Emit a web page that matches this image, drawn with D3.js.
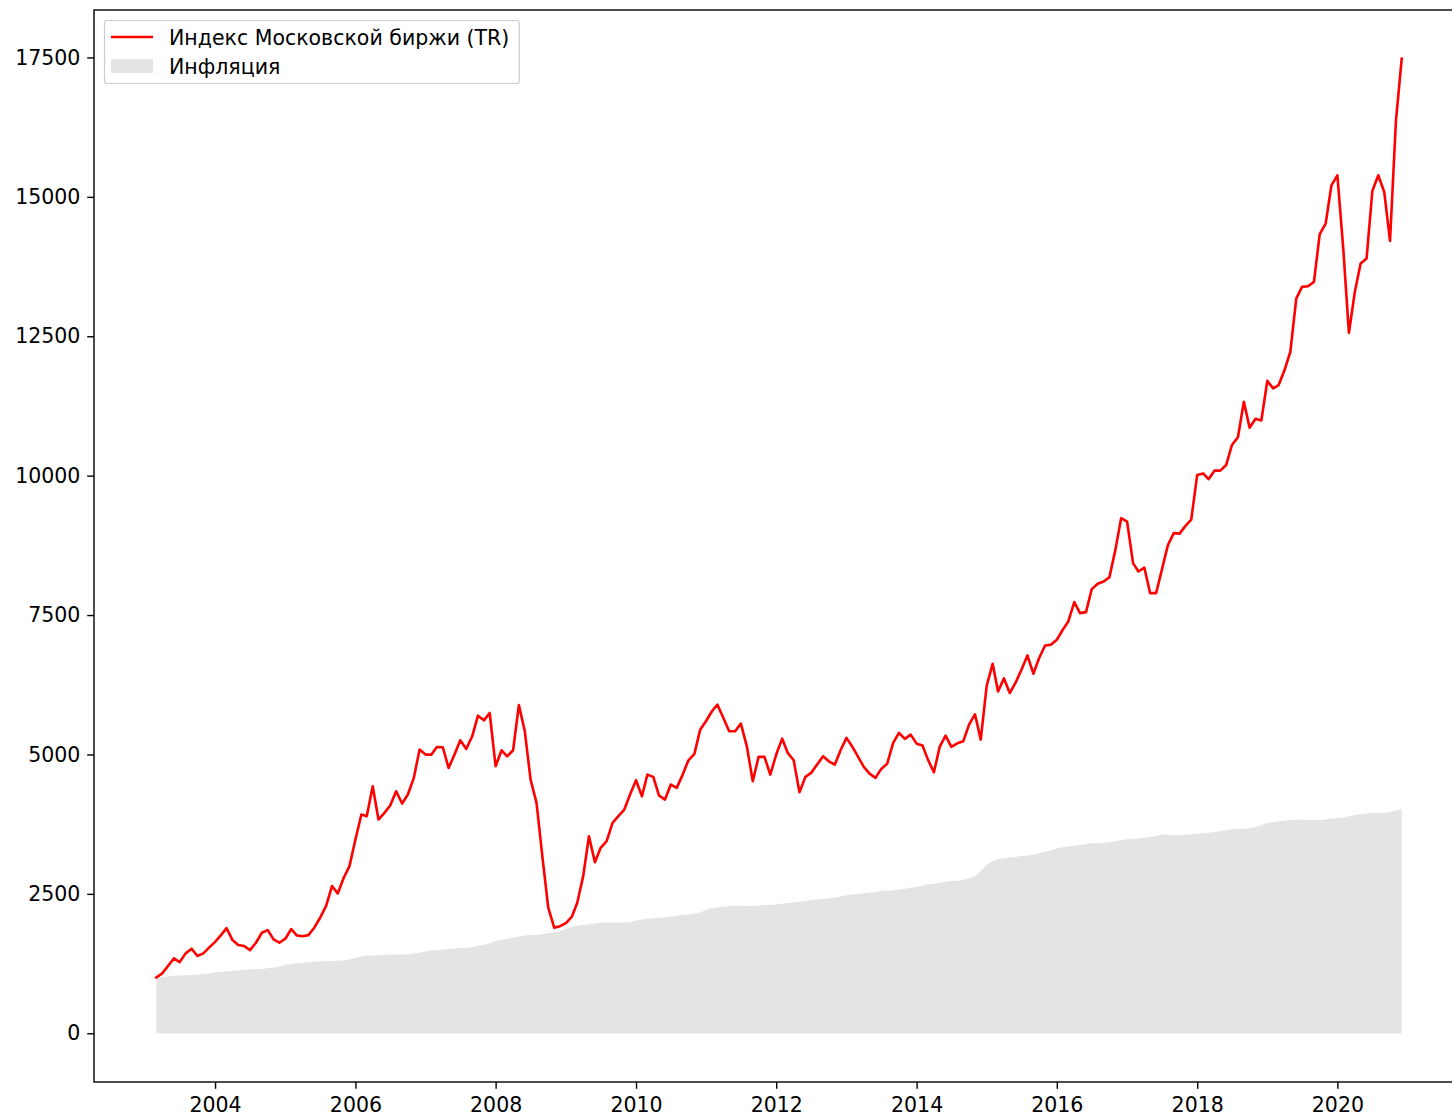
<!DOCTYPE html>
<html>
<head>
<meta charset="utf-8">
<script src="https://cdn.jsdelivr.net/npm/d3@7"></script>
<style>
  html, body { margin: 0; padding: 0; background: #fff; }
  svg { display: block; }
  text { font-family: "DejaVu Sans", sans-serif; }
</style>
</head>
<body>
<script>
// ---------------- DATA ----------------
const startMonth = "2003-03-01";   // first monthly observation
const seriesNames = ["Индекс Московской биржи (TR)", "Инфляция"];

// Monthly values, Mar 2003 .. Dec 2020
const moexTR = [
  1000, 1075, 1206, 1343, 1277, 1433, 1517, 1385, 1433, 1535,
  1640, 1760, 1886, 1671, 1582, 1564, 1492, 1624, 1803, 1851, 1684, 1624, 1696, 1870,
  1755, 1740, 1760, 1893, 2072, 2280, 2639, 2508, 2789, 2997, 3475, 3923,
  3893, 4430, 3833, 3953, 4084, 4340, 4120, 4281, 4580, 5087, 4998, 4998,
  5135, 5129, 4759, 4998, 5254, 5100, 5326, 5696, 5612, 5744, 4788, 5075,
  4967, 5075, 5885, 5415, 4550, 4132, 3150, 2252, 1893, 1920, 1975, 2090,
  2341, 2818, 3534, 3068, 3326, 3445, 3774, 3893, 4012, 4281, 4537, 4250,
  4639, 4598, 4263, 4191, 4460, 4401, 4639, 4896, 5010, 5445, 5600, 5780,
  5893, 5655, 5415, 5415, 5553, 5146, 4519, 4956, 4956, 4639, 4998, 5284,
  5028, 4896, 4322, 4598, 4670, 4818, 4967, 4878, 4818, 5075, 5297, 5135,
  4967, 4777, 4657, 4580, 4741, 4836, 5207, 5386, 5279, 5356, 5194, 5159,
  4908, 4680, 5135, 5338, 5135, 5200, 5236, 5535, 5720, 5266, 6233, 6627,
  6131, 6364, 6102, 6292, 6520, 6776, 6448, 6729, 6955, 6967, 7057, 7236,
  7385, 7733, 7535, 7553, 7965, 8060, 8102, 8180, 8669, 9237, 9176, 8431,
  8281, 8350, 7894, 7894, 8311, 8750, 8970, 8960, 9100, 9213, 10013, 10040,
  9936, 10090, 10090, 10192, 10550, 10688, 11326, 10858, 11020, 10990, 11700, 11565,
  11625, 11894, 12222, 13178, 13386, 13398, 13476, 14330, 14521, 15207, 15386, 14050,
  12562, 13297, 13805, 13895, 15106, 15386, 15088, 14210, 16372, 17477
];

const inflation = [
  1000, 1010, 1018, 1026, 1035, 1042, 1046, 1050, 1061, 1070,
  1089, 1100, 1108, 1119, 1127, 1136, 1146, 1150, 1154, 1167, 1179, 1195,
  1226, 1241, 1257, 1264, 1272, 1281, 1290, 1291, 1295, 1301, 1311, 1325,
  1356, 1379, 1389, 1394, 1399, 1402, 1406, 1408, 1411, 1419, 1430, 1444,
  1468, 1484, 1492, 1501, 1511, 1516, 1529, 1531, 1543, 1568, 1586, 1616,
  1653, 1673, 1693, 1711, 1732, 1752, 1761, 1768, 1780, 1796, 1811, 1831,
  1876, 1906, 1930, 1943, 1957, 1969, 1981, 1981, 1981, 1982, 1988, 1992,
  2024, 2042, 2055, 2062, 2073, 2081, 2093, 2107, 2121, 2131, 2144, 2167,
  2217, 2244, 2257, 2265, 2279, 2287, 2287, 2282, 2282, 2291, 2300, 2299,
  2311, 2322, 2337, 2345, 2358, 2368, 2395, 2398, 2412, 2423, 2431, 2451,
  2474, 2488, 2497, 2509, 2523, 2533, 2555, 2558, 2563, 2578, 2592, 2610,
  2626, 2646, 2672, 2683, 2699, 2717, 2730, 2736, 2754, 2776, 2811, 2908,
  3020, 3086, 3126, 3140, 3153, 3159, 3183, 3184, 3203, 3227, 3251, 3283,
  3315, 3334, 3348, 3363, 3377, 3390, 3408, 3410, 3416, 3430, 3444, 3460,
  3481, 3489, 3494, 3505, 3518, 3540, 3575, 3556, 3550, 3553, 3558, 3565,
  3576, 3585, 3595, 3609, 3623, 3641, 3660, 3663, 3668, 3682, 3700, 3731,
  3770, 3787, 3803, 3814, 3823, 3827, 3834, 3826, 3820, 3825, 3836, 3845,
  3860, 3870, 3890, 3920, 3930, 3940, 3952, 3951, 3952, 3968, 3995, 4025
];

const yTicks = [0, 2500, 5000, 7500, 10000, 12500, 15000, 17500];
const xTickYears = [2004, 2006, 2008, 2010, 2012, 2014, 2016, 2018, 2020];

// ---------------- LAYOUT ----------------
const W = 1452, H = 1117;
const axL = 94, axR = 1464, axT = 10, axB = 1082;
const fontSize = 20.5;
const lineColor = "#ff0000";
const fillColor = "#e4e4e4";

const parse = d3.utcParse("%Y-%m-%d");
const start = parse(startMonth);
const rows = moexTR.map((v, i) => ({
  date: d3.utcMonth.offset(start, i),
  moex: v,
  infl: inflation[i]
}));

const svg = d3.select("body").append("svg")
  .attr("width", W).attr("height", H)
  .style("font-family", "'DejaVu Sans', sans-serif");

// matplotlib-like 5% margins
const xExt = d3.extent(rows, d => d.date);
const xSpan = xExt[1] - xExt[0];
const x = d3.scaleUtc()
  .domain([new Date(+xExt[0] - 0.05 * xSpan), new Date(+xExt[1] + 0.05 * xSpan)])
  .range([axL, axR]);

const yMin = 0, yMax = d3.max(rows, d => Math.max(d.moex, d.infl));
const ySpan = yMax - yMin;
const y = d3.scaleLinear()
  .domain([yMin - 0.05 * ySpan, yMax + 0.05 * ySpan])
  .range([axB, axT]);

// clip to axes
svg.append("clipPath").attr("id", "clip")
  .append("rect").attr("x", axL).attr("y", axT).attr("width", axR - axL).attr("height", axB - axT);

const plot = svg.append("g").attr("clip-path", "url(#clip)");

// inflation area (fill_between to 0)
plot.append("path")
  .datum(rows)
  .attr("fill", fillColor)
  .attr("d", d3.area().x(d => x(d.date)).y0(y(0)).y1(d => y(d.infl)));

// MOEX line
plot.append("path")
  .datum(rows)
  .attr("fill", "none")
  .attr("stroke", lineColor)
  .attr("stroke-width", 2.6)
  .attr("stroke-linejoin", "round")
  .attr("stroke-linecap", "square")
  .attr("d", d3.line().x(d => x(d.date)).y(d => y(d.moex)));

// axes
const tickLen = 6.8;
const yAxis = d3.axisLeft(y).tickValues(yTicks).tickSize(tickLen).tickPadding(6.8).tickFormat(d3.format("d"));
const xAxis = d3.axisBottom(x)
  .tickValues(xTickYears.map(yr => new Date(Date.UTC(yr, 0, 1))))
  .tickSize(tickLen).tickPadding(9)
  .tickFormat(d3.utcFormat("%Y"));

const gy = svg.append("g").attr("transform", `translate(${axL},0)`).call(yAxis);
const gx = svg.append("g").attr("transform", `translate(0,${axB})`).call(xAxis);
[gx, gy].forEach(g => {
  g.select(".domain").remove();
  g.selectAll(".tick line").attr("stroke", "#000").attr("stroke-width", 1.4);
  g.selectAll(".tick text").attr("fill", "#000").style("font-size", fontSize + "px")
    .style("font-family", "'DejaVu Sans', sans-serif");
});

// spines
const spines = svg.append("g").attr("fill", "none").attr("stroke", "#000").attr("stroke-width", 1.4);
spines.append("rect").attr("x", axL).attr("y", axT).attr("width", axR - axL).attr("height", axB - axT);

// legend
const lg = svg.append("g");
const lgX = 104.5, lgY = 20.5;
const box = lg.append("rect")
  .attr("x", lgX).attr("y", lgY).attr("height", 63)
  .attr("rx", 3).attr("ry", 3)
  .attr("fill", "#fff").attr("fill-opacity", 0.8)
  .attr("stroke", "#cccccc").attr("stroke-width", 1.2);

lg.append("line")
  .attr("x1", 111).attr("x2", 153).attr("y1", 37).attr("y2", 37)
  .attr("stroke", lineColor).attr("stroke-width", 2.6);
lg.append("rect")
  .attr("x", 111).attr("y", 59).attr("width", 42).attr("height", 14)
  .attr("fill", fillColor);

const t1 = lg.append("text").attr("x", 169).attr("y", 45)
  .style("font-size", fontSize + "px").attr("fill", "#000").text(seriesNames[0]);
const t2 = lg.append("text").attr("x", 169).attr("y", 74)
  .style("font-size", fontSize + "px").attr("fill", "#000").text(seriesNames[1]);

const tw = Math.max(t1.node().getComputedTextLength(), t2.node().getComputedTextLength());
box.attr("width", 169 + tw + 10 - lgX);
</script>
</body>
</html>
